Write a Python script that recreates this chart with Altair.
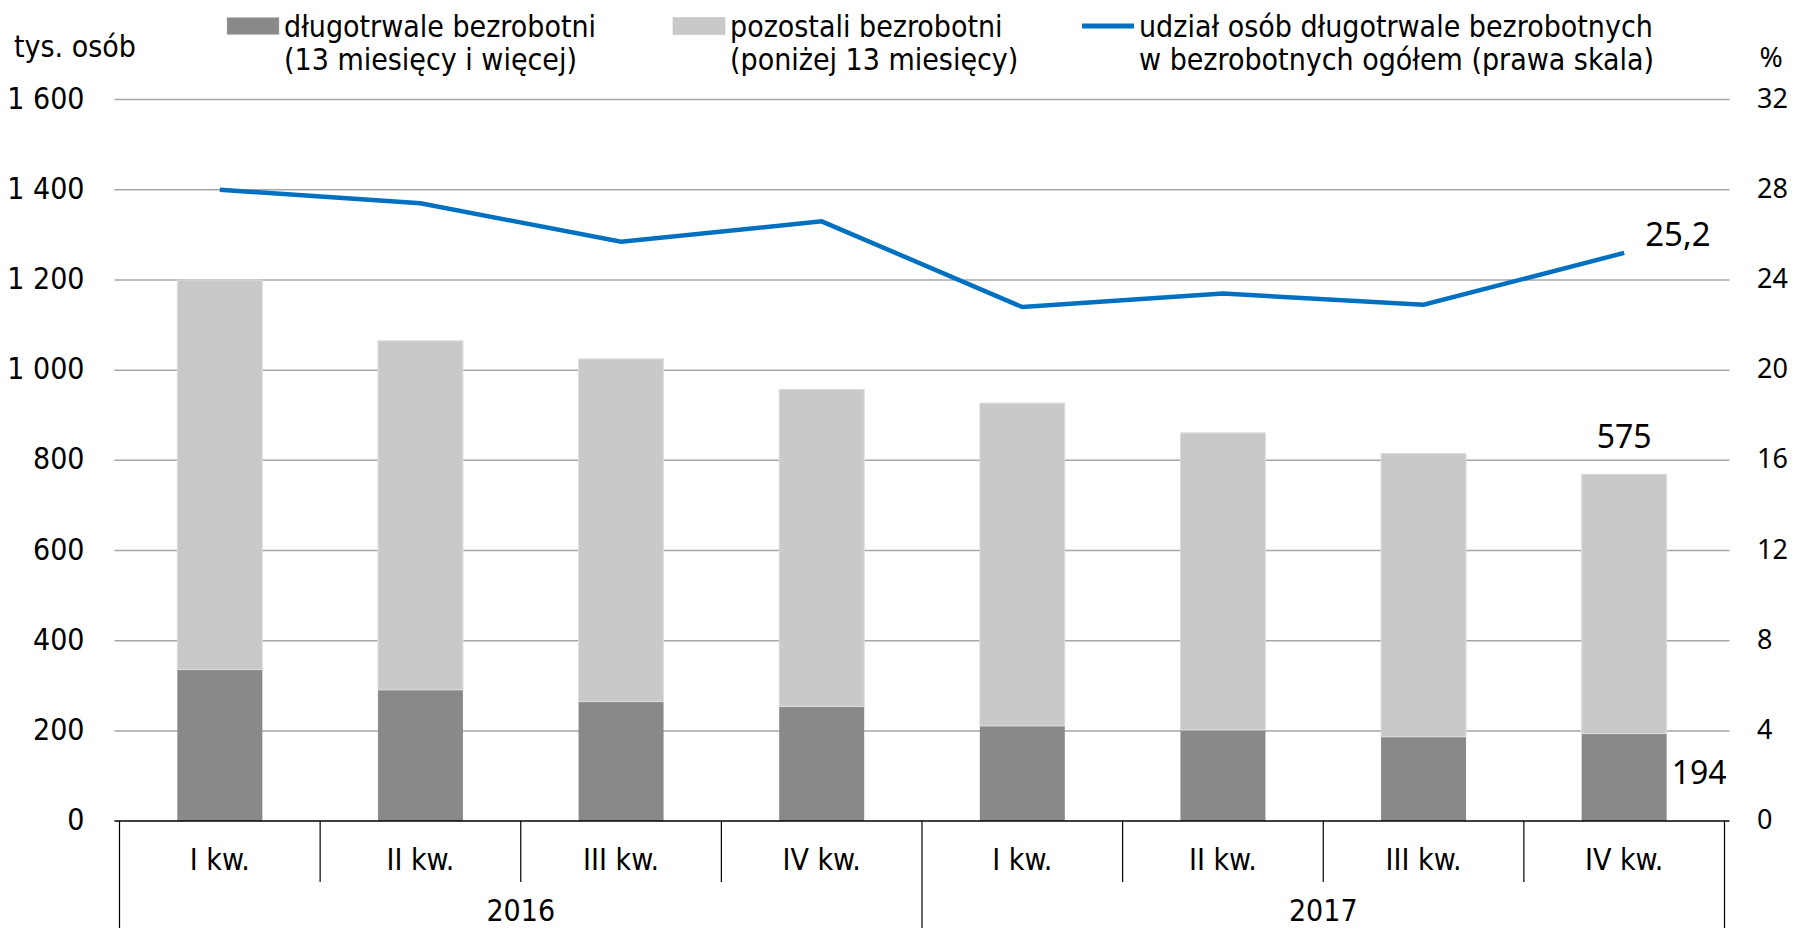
import altair as alt
import pandas as pd

# ---- data ----
quarters = ["I kw.", "II kw.", "III kw.", "IV kw.", "I kw.", "II kw.", "III kw.", "IV kw."]
years = ["2016", "2017"]
long_term = [336, 291, 265, 254, 211, 202, 187, 194]       # długotrwale bezrobotni
other = [864, 774, 760, 703, 716, 659, 628, 575]           # pozostali bezrobotni
share = [28.0, 27.4, 25.7, 26.6, 22.8, 23.4, 22.9, 25.2]   # udział (%)

left_ticks = [0, 200, 400, 600, 800, 1000, 1200, 1400, 1600]
right_ticks = [0, 4, 8, 12, 16, 20, 24, 28, 32]

legend_labels = [
    ["długotrwale bezrobotni", "(13 miesięcy i więcej)"],
    ["pozostali bezrobotni", "(poniżej 13 miesięcy)"],
    ["udział osób długotrwale bezrobotnych", "w bezrobotnych ogółem (prawa skala)"],
]
left_unit = "tys. osób"
right_unit = "%"

# ---- styling ----
W, H = 1615, 721.5
DARK, LIGHT, BLUE, GRID = "#898989", "#c9c9c9", "#0070c0", "#a6a6a6"
FONT = "Liberation Sans Narrow, DejaVu Sans Condensed, Liberation Sans"
FONT2 = "Noto Sans"
FS = 30

df = pd.DataFrame({
    "pos": [i + 0.5 for i in range(len(quarters))],
    "quarter": quarters,
    "long": long_term,
    "other": other,
    "share": share,
})
df["total"] = df["long"] + df["other"]
df["share_lbl"] = [f"{v:.1f}".replace(".", ",") for v in share]

lt = pd.DataFrame({"v": left_ticks,
                   "lbl": [f"{v:,}".replace(",", " ") for v in left_ticks]})
rt = pd.DataFrame({"v": right_ticks, "lbl": [str(v) for v in right_ticks]})

xs = alt.Scale(domain=[0, len(quarters)], nice=False, zero=False)
ys = alt.Scale(domain=[left_ticks[0], left_ticks[-1]], nice=False)
yr = alt.Scale(domain=[right_ticks[0], right_ticks[-1]], nice=False)

base = alt.Chart(df)
NOX = alt.X("pos:Q", scale=xs, axis=None)

# left scale: gridlines, labels, bars
grid = alt.Chart(lt[lt["v"] > 0]).mark_rule(color=GRID, strokeWidth=1.5).encode(
    x=alt.value(0), x2=alt.value(W), y=alt.Y("v:Q", scale=ys, axis=None))
llab = alt.Chart(lt).mark_text(font=FONT, fontSize=FS, align="right", baseline="middle", color="black").encode(
    x=alt.value(-30), y=alt.Y("v:Q", scale=ys, axis=None), text="lbl:N")
dark = base.mark_bar(size=85, color=DARK).encode(
    x=NOX, y=alt.Y("long:Q", scale=ys, axis=None), y2=alt.datum(0))
light = base.mark_bar(size=85, color=LIGHT, stroke="#dedede", strokeWidth=1).encode(
    x=NOX, y=alt.Y("total:Q", scale=ys, axis=None), y2="long:Q")
last = df.iloc[[-1]]
lab_other = alt.Chart(last).mark_text(font=FONT2, fontSize=32, baseline="middle", dy=-36, color="black").encode(
    x=NOX, y=alt.Y("total:Q", scale=ys, axis=None), text="other:Q")
lab_long = alt.Chart(last).mark_text(font=FONT2, fontSize=32, baseline="middle", dx=75, dy=40, color="black").encode(
    x=NOX, y=alt.Y("long:Q", scale=ys, axis=None), text="long:Q")
xdomain = alt.Chart(lt.iloc[[0]]).mark_rule(color="black", strokeWidth=1.5).encode(
    x=alt.value(0), x2=alt.value(W), y=alt.Y("v:Q", scale=ys, axis=None))

bars = alt.layer(grid, llab, dark, light, lab_other, lab_long, xdomain)

# right scale: line, labels
line = base.mark_line(color=BLUE, strokeWidth=4.5).encode(
    x=NOX, y=alt.Y("share:Q", scale=yr, axis=None))
rlab = alt.Chart(rt).mark_text(font=FONT2, fontSize=27, align="left", baseline="middle", color="black").encode(
    x=alt.value(W + 27.5), y=alt.Y("v:Q", scale=yr, axis=None), text="lbl:N")
lab_share = alt.Chart(last).mark_text(font=FONT2, fontSize=33, align="left", baseline="middle",
                                      dx=21, dy=-17, color="black").encode(
    x=NOX, y=alt.Y("share:Q", scale=yr, axis=None), text="share_lbl:N")

lines = alt.layer(line, rlab, lab_share)

# ---- category axis (quarters / years) ----
qlab = base.mark_text(font=FONT, fontSize=FS, baseline="middle", color="black").encode(
    x=NOX, y=alt.value(H + 40), text="quarter:N")
ydf = pd.DataFrame({"year": years, "pos": [2.0, 6.0]})
ylab = alt.Chart(ydf).mark_text(font=FONT, fontSize=FS, baseline="middle", color="black").encode(
    x=NOX, y=alt.value(H + 91), text="year:N")
qdiv = pd.DataFrame({"pos": [float(i) for i in range(1, len(quarters)) if i % 4 != 0]})
ydiv = pd.DataFrame({"pos": [float(i) for i in range(0, len(quarters) + 1) if i % 4 == 0]})
qrule = alt.Chart(qdiv).mark_rule(color="black", strokeWidth=1.2).encode(
    x=NOX, y=alt.value(H), y2=alt.value(H + 61))
yrule = alt.Chart(ydiv).mark_rule(color="black", strokeWidth=1.2).encode(
    x=NOX, y=alt.value(H), y2=alt.value(H + 130))

# ---- manual legend & unit titles (pixel placement) ----
sw_x = [112.5, 558.5, 967.5]
legend_layers = []
for k, (l1, l2) in enumerate(legend_labels):
    for t, yy in ((l1, -72.0), (l2, -38.6)):
        legend_layers.append(
            alt.Chart(pd.DataFrame({"t": [t]})).mark_text(
                font=FONT, fontSize=FS, align="left", baseline="middle", color="black").encode(
                x=alt.value(sw_x[k] + 57), y=alt.value(yy), text="t:N"))
for k, c in enumerate([DARK, LIGHT]):
    legend_layers.append(
        alt.Chart(pd.DataFrame({"c": [c]})).mark_rect(color=c, stroke="#bbbbbb", strokeWidth=0.5).encode(
            x=alt.value(sw_x[k]), x2=alt.value(sw_x[k] + 52), y=alt.value(-82), y2=alt.value(-65)))
legend_layers.append(
    alt.Chart(pd.DataFrame({"c": [BLUE]})).mark_rule(color=BLUE, strokeWidth=5).encode(
        x=alt.value(sw_x[2]), x2=alt.value(sw_x[2] + 52), y=alt.value(-73.6)))
legend_layers.append(
    alt.Chart(pd.DataFrame({"t": [left_unit]})).mark_text(
        font=FONT, fontSize=FS, align="left", baseline="middle", color="black").encode(
        x=alt.value(-100.5), y=alt.value(-51.5), text="t:N"))
legend_layers.append(
    alt.Chart(pd.DataFrame({"t": [right_unit]})).mark_text(
        font=FONT2, fontSize=28, align="left", baseline="middle", color="black").encode(
        x=alt.value(W + 30), y=alt.value(-40.5), text="t:N"))

chart = alt.layer(
    bars, lines, qrule, yrule, qlab, ylab, *legend_layers
).resolve_scale(y="independent").properties(
    width=W, height=H,
    autosize=alt.AutoSizeParams(type="none"),
    padding={"left": 106.5, "top": 91.6, "right": 58.5, "bottom": 107},
).configure_view(stroke=None)

chart.save("out.html", embed_options={"renderer": "svg", "actions": False})
